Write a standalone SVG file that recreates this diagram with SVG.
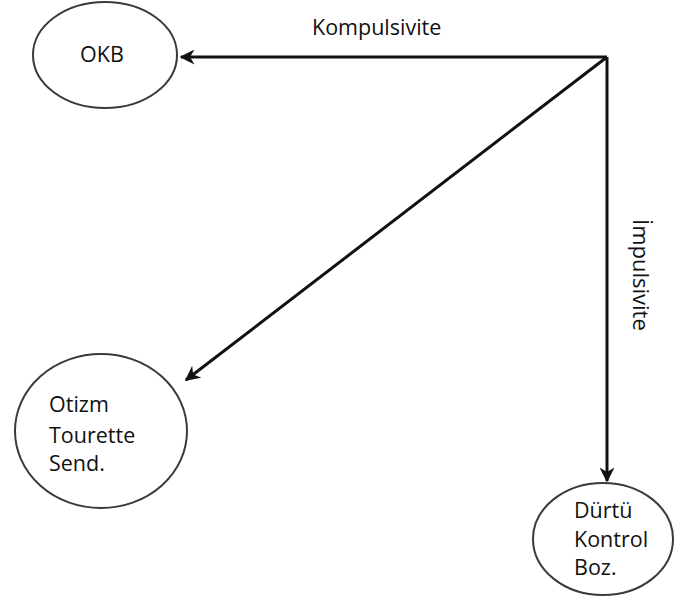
<svg xmlns="http://www.w3.org/2000/svg" width="674" height="599" viewBox="0 0 674 599">
  <style>
    .node { fill: #ffffff; stroke: #3a3a3a; stroke-width: 2; }
    .label { font-family: "Open Sans", "Noto Sans", sans-serif; font-size: 21.5px; fill: #111111; }
    .edge { stroke: #111111; stroke-width: 3; fill: none; stroke-linejoin: round; }
  </style>
  <defs>
    <marker id="head" viewBox="0 0 10 10" refX="9" refY="5" markerWidth="5" markerHeight="5" orient="auto" markerUnits="strokeWidth">
      <path d="M0,0 L10,5 L0,10 L3,5 Z" fill="#111111"/>
    </marker>
  </defs>
  <rect width="674" height="599" fill="#ffffff"/>

  <g id="connectors">
    <path class="edge" d="M607,57 L181,57" marker-end="url(#head)"/>
    <path class="edge" d="M607,57 L186,380" marker-end="url(#head)"/>
    <path class="edge" d="M607,57 L607,481" marker-end="url(#head)"/>
    <text class="label" x="312" y="35">Kompulsivite</text>
    <text class="label" style="font-size:22px" transform="translate(633,219) rotate(90)">İmpulsivite</text>
  </g>

  <g id="okb">
    <ellipse class="node" cx="105" cy="55" rx="72" ry="53"/>
    <text class="label" x="102" y="62" text-anchor="middle">OKB</text>
  </g>

  <g id="otizm">
    <ellipse class="node" cx="101" cy="431" rx="86" ry="77"/>
    <text class="label" x="49" y="412">Otizm</text>
    <text class="label" x="49" y="443">Tourette</text>
    <text class="label" x="49" y="471">Send.</text>
  </g>

  <g id="durtu">
    <ellipse class="node" cx="603" cy="539" rx="70" ry="56"/>
    <text class="label" x="574" y="518">Dürtü</text>
    <text class="label" x="574" y="547">Kontrol</text>
    <text class="label" x="574" y="575">Boz.</text>
  </g>
</svg>
